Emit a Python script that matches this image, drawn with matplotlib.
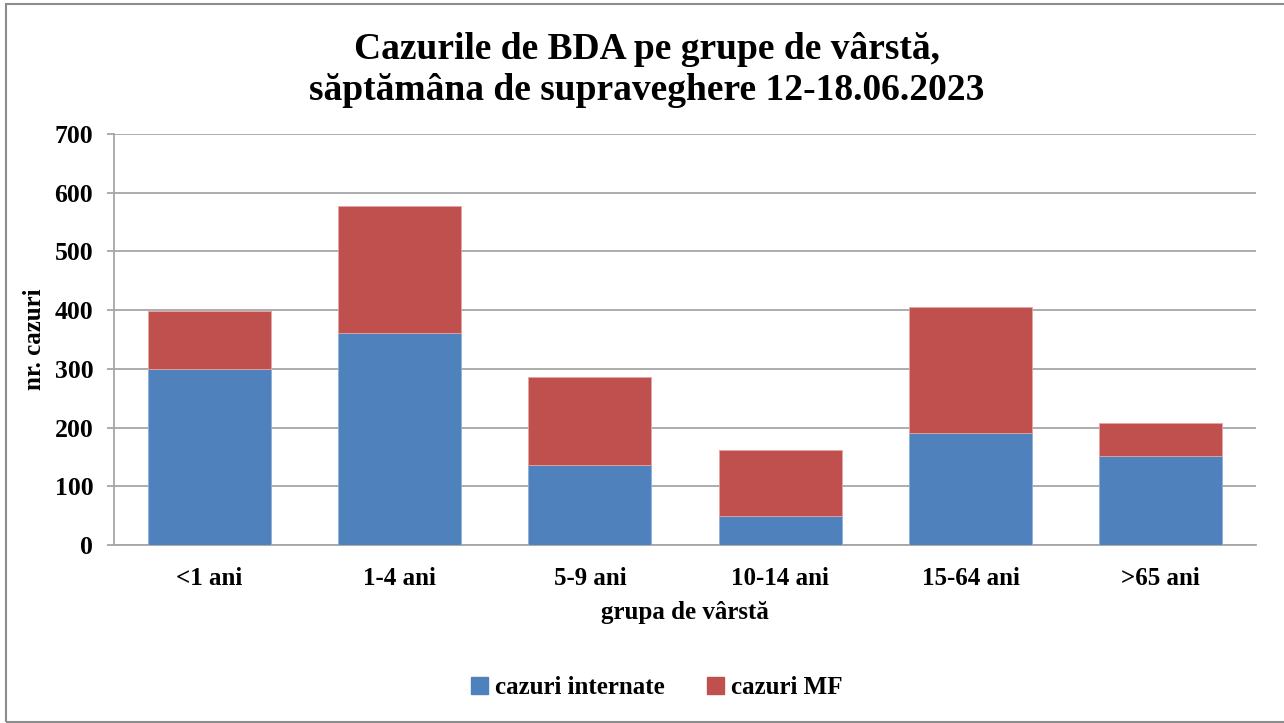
import matplotlib
matplotlib.use("Agg")
import matplotlib.pyplot as plt
from matplotlib.patches import Rectangle, Patch
import numpy as np

categories = ["<1 ani", "1-4 ani", "5-9 ani", "10-14 ani", "15-64 ani", ">65 ani"]
internate = [300, 361, 136, 50, 190, 151]
mf = [98, 217, 150, 112, 216, 57]
yticks = [0, 100, 200, 300, 400, 500, 600, 700]

plt.rcParams['font.family'] = ['Liberation Serif', 'DejaVu Serif']
plt.rcParams['font.weight'] = 'bold'

W, H = 1284, 723
fig = plt.figure(figsize=(W / 100, H / 100), dpi=100)
fig.patch.set_facecolor('white')

# outer chart border
fig.patches.append(Rectangle((6 / W, 1 - 722 / H), (1300 - 6) / W, (722 - 4) / H,
                             transform=fig.transFigure, fill=False,
                             edgecolor='#8c8c8c', linewidth=1.5, zorder=0))

ax = fig.add_axes([114 / W, 1 - 545 / H, (1256 - 114) / W, (545 - 134) / H])
x = np.arange(len(categories))
blue = '#4F81BD'
red = '#C0504D'
ax.bar(x, internate, width=0.647, color=blue, edgecolor='#8fb0d8', linewidth=0.6,
       label='cazuri internate', zorder=3)
ax.bar(x, mf, width=0.647, bottom=internate, color=red, edgecolor='#e3a7a5', linewidth=0.6,
       label='cazuri MF', zorder=3)

ax.set_xlim(-0.5, len(categories) - 0.5)
ax.set_ylim(0, 700)
ax.set_yticks(yticks)
ax.set_xticks(x)
ax.set_xticklabels(categories, fontsize=18, fontweight='bold')
ax.set_yticklabels([str(v) for v in yticks], fontsize=18.5, fontweight='bold')
ax.grid(axis='y', color='#a6a6a6', linewidth=1.3, zorder=0)
ax.set_axisbelow(True)
for s in ['top', 'right']:
    ax.spines[s].set_visible(False)
ax.spines['left'].set_color('#a6a6a6')
ax.spines['left'].set_linewidth(1.3)
ax.spines['bottom'].set_color('#a6a6a6')
ax.spines['bottom'].set_linewidth(1.3)
ax.tick_params(axis='y', length=5, color='#a6a6a6', width=1.3, pad=10)
ax.tick_params(axis='x', length=0, pad=16)

ax.set_ylabel('nr. cazuri', fontsize=18, fontweight='bold', labelpad=6)
ax.set_xlabel('grupa de vârstă', fontsize=18, fontweight='bold', labelpad=8)

fig.text(647 / W, 1 - 70 / H, 'Cazurile de BDA pe grupe de vârstă,\nsăptămâna de supraveghere 12-18.06.2023',
         ha='center', va='center', fontsize=27, fontweight='bold', linespacing=1.2)

handles = [Patch(color=blue), Patch(color=red)]
fig.legend(handles, ['cazuri internate', 'cazuri MF'], loc='center',
           bbox_to_anchor=(657 / W, 1 - 688 / H), ncol=2, frameon=False,
           prop={'size': 18, 'weight': 'bold'}, handlelength=0.65, handleheight=0.65,
           handletextpad=0.3, columnspacing=1.7)

fig.savefig('out.png', dpi=100, facecolor='white')
